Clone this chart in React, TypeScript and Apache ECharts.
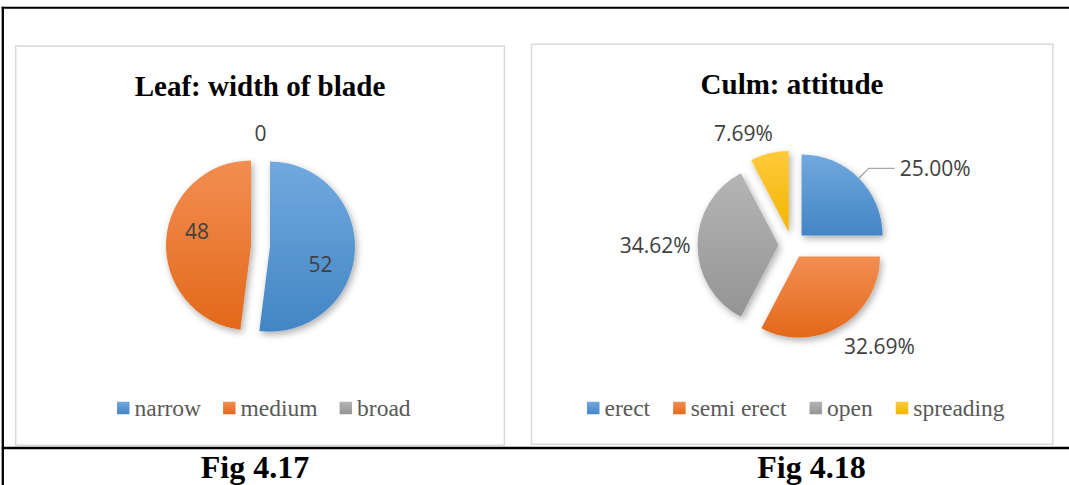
import React, { useEffect, useRef } from 'react';
import * as echarts from 'echarts';

// ---- data ----
const leafTitle = 'Leaf: width of blade';
const leafCategories = ['narrow', 'medium', 'broad'];
const leafValues = [52, 48, 0];

const culmTitle = 'Culm: attitude';
const culmCategories = ['erect', 'semi erect', 'open', 'spreading'];
const culmValues = [25.0, 32.69, 34.62, 7.69];

const figLabels = ['Fig 4.17', 'Fig 4.18'];

// ---- styling ----
const GRADS: string[][] = [
  ['#71a9de', '#4385c5'],
  ['#f28e51', '#e3691b'],
  ['#b5b5b5', '#949494'],
  ['#ffca3c', '#f2b500'],
];
const grad = (i: number) =>
  new echarts.graphic.LinearGradient(0, 0, 0, 1, [
    { offset: 0, color: GRADS[i][0] },
    { offset: 1, color: GRADS[i][1] },
  ]);

const LABEL_FONT = '"Open Sans", "Liberation Sans", sans-serif';
const SERIF = '"Liberation Serif", "Times New Roman", serif';

// label fine-tuning (style only)
const LEAF_SHIFT = [[5, 15], [-8.5, -12], [0, 0]];
const LEAF_LABEL: any[] = [{}, {}, { position: 'outside', distanceToLabelLine: -6 }];
const LEAF_LINE: any[] = [{}, {}, { show: false, length: 28, length2: 0 }];

const CULM_LABEL: any[] = [
  { padding: [0, 0, 12, 0] },
  { distanceToLabelLine: -9.3 },
  { distanceToLabelLine: 6.8 },
  { distanceToLabelLine: -8.4 },
];
const CULM_LINE: any[] = [
  { show: true, length: 14, length2: 26, lineStyle: { color: '#a6a6a6', width: 1.3 } },
  { show: false, length: 24, length2: 0 },
  { show: false, length: 0, length2: 0 },
  { show: false, length: 20.7, length2: 0 },
];

const shadow = {
  shadowBlur: 7,
  shadowColor: 'rgba(0,0,0,0.32)',
  shadowOffsetX: 2,
  shadowOffsetY: 3,
};

const legendCommon = {
  orient: 'horizontal',
  icon: 'rect',
  itemWidth: 12.5,
  itemHeight: 12.5,
  padding: 0,
  selectedMode: false,
  itemStyle: { shadowBlur: 0, shadowOffsetX: 0, shadowOffsetY: 0, shadowColor: 'transparent' },
  textStyle: { fontFamily: SERIF, fontSize: 23.5, color: '#595959', lineHeight: 24 },
};

const textEl = (x: number, y: number, text: string, font: string, fill = '#000') => ({
  type: 'text',
  x,
  y,
  silent: true,
  style: {
    text,
    font,
    fill,
    align: 'center',
    textAlign: 'center',
    verticalAlign: 'middle',
    textVerticalAlign: 'middle',
  },
});

export default function App() {
  const ref = useRef<HTMLDivElement>(null);

  useEffect(() => {
    if (!ref.current) return;
    const chart = echarts.init(ref.current, null, { renderer: 'svg' });

    const option: any = {
      animation: false,
      backgroundColor: '#ffffff',
      legend: [
        { ...legendCommon, data: leafCategories, left: 117, top: 396, itemGap: 22 },
        { ...legendCommon, data: culmCategories, left: 587, top: 396, itemGap: 23 },
      ],
      graphic: [
        // table frame
        { type: 'line', silent: true, shape: { x1: 1.7, y1: 7.7, x2: 1069, y2: 7.7 }, style: { stroke: '#000', lineWidth: 2 } },
        { type: 'line', silent: true, shape: { x1: 2.8, y1: 6.7, x2: 2.8, y2: 485 }, style: { stroke: '#000', lineWidth: 2.3 } },
        { type: 'line', silent: true, shape: { x1: 1.7, y1: 448, x2: 1069, y2: 448 }, style: { stroke: '#000', lineWidth: 2.5 } },
        // chart boxes
        { type: 'rect', silent: true, shape: { x: 15.7, y: 46, width: 488.7, height: 399.3 }, style: { fill: 'none', stroke: '#d9d9d9', lineWidth: 1.5 } },
        { type: 'rect', silent: true, shape: { x: 531.5, y: 44.3, width: 521.3, height: 400 }, style: { fill: 'none', stroke: '#d9d9d9', lineWidth: 1.5 } },
        // titles
        textEl(260, 86.2, leafTitle, `bold 29px ${SERIF}`),
        textEl(792, 84.2, culmTitle, `bold 29px ${SERIF}`),
        // figure captions
        textEl(255, 466.5, figLabels[0], `bold 32px ${SERIF}`),
        textEl(811.5, 466.5, figLabels[1], `bold 32px ${SERIF}`),
      ],
      series: [
        {
          type: 'pie',
          name: leafTitle,
          center: [260.5, 246],
          radius: 85,
          startAngle: 90,
          clockwise: true,
          selectedMode: 'multiple',
          selectedOffset: 9.5,
          avoidLabelOverlap: false,
          emphasis: { disabled: true },
          itemStyle: { ...shadow },
          label: {
            show: true,
            position: 'inside',
            fontFamily: LABEL_FONT,
            fontSize: 21,
            color: '#404040',
            formatter: '{c}',
          },
          labelLine: { show: false },
          labelLayout: (p: any) => ({ dx: LEAF_SHIFT[p.dataIndex][0], dy: LEAF_SHIFT[p.dataIndex][1] }),
          data: leafCategories.map((name, i) => ({
            name,
            value: leafValues[i],
            selected: leafValues[i] > 0,
            itemStyle: { color: grad(i) },
            label: LEAF_LABEL[i],
            labelLine: LEAF_LINE[i],
          })),
        },
        {
          type: 'pie',
          name: culmTitle,
          center: [792, 245],
          radius: 81,
          startAngle: 90,
          clockwise: true,
          selectedMode: 'multiple',
          selectedOffset: 13.5,
          avoidLabelOverlap: false,
          emphasis: { disabled: true },
          itemStyle: { ...shadow },
          label: {
            show: true,
            position: 'outside',
            fontFamily: LABEL_FONT,
            fontSize: 21,
            color: '#404040',
            formatter: (p: any) => `${Number(p.value).toFixed(2)}%`,
          },
          labelLine: { show: false },
          data: culmCategories.map((name, i) => ({
            name,
            value: culmValues[i],
            selected: true,
            itemStyle: { color: grad(i) },
            label: CULM_LABEL[i],
            labelLine: CULM_LINE[i],
          })),
        },
      ],
    };

    chart.setOption(option);
    return () => chart.dispose();
  }, []);

  return (
    <div
      ref={ref}
      style={{ position: 'absolute', left: 0, top: 0, width: 1069, height: 485, background: '#fff' }}
    />
  );
}
